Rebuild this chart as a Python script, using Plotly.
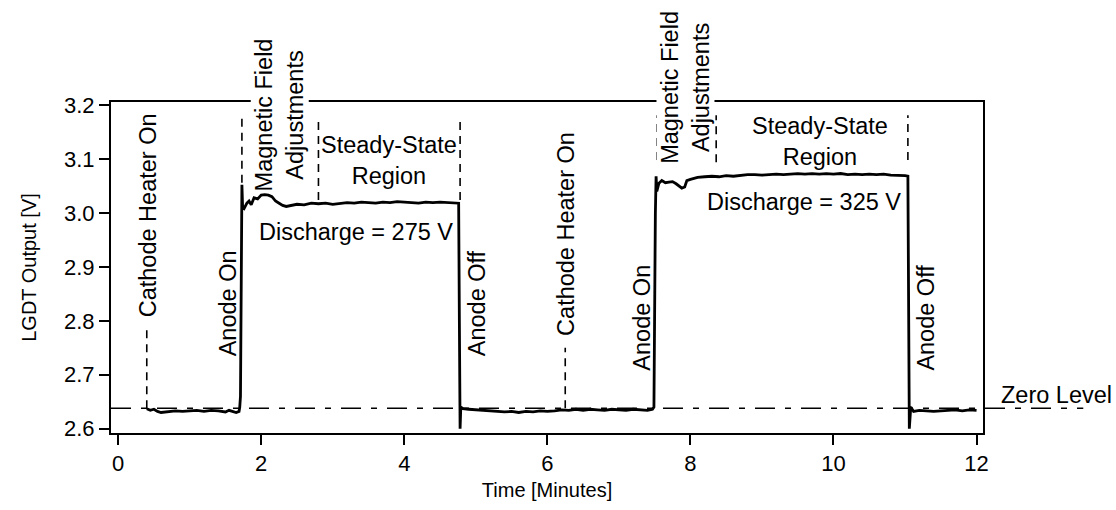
import plotly.graph_objects as go

# ---------------- data ----------------
time_min = [
    0.40, 0.45, 0.50, 0.55, 0.60, 0.70, 0.80, 0.90, 1.00, 1.10, 1.20, 1.30, 1.40, 1.50, 1.55, 1.60, 1.65, 1.69,
    1.70, 1.71, 1.72, 1.73, 1.74, 1.76, 1.80, 1.83, 1.86, 1.90, 1.95, 2.00, 2.05, 2.10, 2.15, 2.20, 2.25, 2.30,
    2.35, 2.40, 2.50, 2.60, 2.70, 2.80, 2.90, 3.00, 3.10, 3.20, 3.30, 3.40, 3.50, 3.60, 3.70, 3.80, 3.90, 4.00,
    4.10, 4.20, 4.30, 4.40, 4.50, 4.60, 4.70, 4.76, 4.77, 4.78, 4.79, 4.82, 4.90, 5.00, 5.10, 5.20, 5.30, 5.40,
    5.50, 5.60, 5.70, 5.80, 5.90, 6.00, 6.10, 6.20, 6.30, 6.40, 6.50, 6.60, 6.70, 6.80, 6.90, 7.00, 7.10, 7.20,
    7.30, 7.40, 7.47, 7.49, 7.51, 7.52, 7.53, 7.56, 7.60, 7.65, 7.70, 7.75, 7.80, 7.85, 7.88, 7.92, 7.95, 8.00,
    8.10, 8.20, 8.30, 8.40, 8.50, 8.60, 8.70, 8.80, 8.90, 9.00, 9.10, 9.20, 9.30, 9.40, 9.50, 9.60, 9.70, 9.80,
    9.90, 10.00, 10.10, 10.20, 10.30, 10.40, 10.50, 10.60, 10.70, 10.80, 10.90, 11.00, 11.04, 11.05, 11.06, 11.08,
    11.12, 11.20, 11.30, 11.40, 11.50, 11.60, 11.70, 11.80, 11.90, 12.00,
]
lgdt_v = [
    2.637, 2.634, 2.636, 2.632, 2.630, 2.632, 2.633, 2.632, 2.633, 2.634, 2.632, 2.634, 2.633, 2.631, 2.634, 2.632, 2.630, 2.632,
    2.640, 2.660, 3.000, 3.052, 3.010, 3.008, 3.018, 3.022, 3.015, 3.028, 3.026, 3.033, 3.034, 3.033, 3.030, 3.022, 3.018, 3.014,
    3.012, 3.013, 3.016, 3.015, 3.018, 3.017, 3.018, 3.016, 3.017, 3.019, 3.018, 3.020, 3.019, 3.018, 3.020, 3.019, 3.021, 3.020,
    3.019, 3.018, 3.020, 3.019, 3.020, 3.019, 3.018, 3.018, 2.800, 2.600, 2.640, 2.637, 2.636, 2.635, 2.634, 2.633, 2.632, 2.631,
    2.632, 2.630, 2.632, 2.631, 2.633, 2.632, 2.633, 2.635, 2.634, 2.636, 2.634, 2.636, 2.635, 2.634, 2.636, 2.635, 2.634, 2.636,
    2.635, 2.634, 2.636, 2.640, 3.000, 3.068, 3.040, 3.055, 3.060, 3.056, 3.057, 3.058, 3.054, 3.050, 3.046, 3.048, 3.060, 3.062,
    3.066, 3.067, 3.068, 3.067, 3.069, 3.068, 3.070, 3.071, 3.071, 3.070, 3.071, 3.072, 3.071, 3.072, 3.073, 3.072, 3.073, 3.072,
    3.073, 3.072, 3.073, 3.071, 3.072, 3.071, 3.072, 3.071, 3.072, 3.070, 3.070, 3.069, 3.068, 2.800, 2.600, 2.640,
    2.632, 2.634, 2.633, 2.632, 2.633, 2.634, 2.635, 2.633, 2.635, 2.634,
]

zero_level = 2.638

x_ticks = [0, 2, 4, 6, 8, 10, 12]
y_ticks = [2.6, 2.7, 2.8, 2.9, 3.0, 3.1, 3.2]

# event markers (time, from-value, to-value)
event_t = [0.40, 1.73, 2.80, 4.78, 6.25, 7.53, 8.36, 11.04]
event_v_low = [2.638, 3.056, 3.024, 3.024, 2.638, 3.098, 3.094, 3.098]
event_v_high = [2.793, 3.178, 3.178, 3.178, 2.750, 3.181, 3.181, 3.181]

# ---------------- figure ----------------
FONT = "Liberation Sans, Arial, Helvetica, sans-serif"
fig = go.Figure()
fig.add_trace(go.Scatter(
    x=time_min, y=lgdt_v, mode="lines",
    line=dict(color="black", width=2.8),
    showlegend=False, hoverinfo="skip",
))

shapes = []
for t, v0, v1 in zip(event_t, event_v_low, event_v_high):
    shapes.append(dict(type="line", xref="x", yref="y", x0=t, x1=t, y0=v0, y1=v1,
                       line=dict(color="black", width=1.6, dash="8px,6px")))
shapes.append(dict(type="line", xref="paper", yref="y", x0=0, x1=1.115, y0=zero_level, y1=zero_level,
                   line=dict(color="black", width=1.6, dash="20px,10px,6px,10px")))

AF = dict(family=FONT, size=23.5, color="black")
annotations = [
    dict(x=0.42, y=2.996, text="Cathode Heater On", textangle=-90),
    dict(x=1.54, y=2.833, text="Anode On", textangle=-90),
    dict(x=2.26, y=0.962, yref="paper", text="Magnetic Field<br>Adjustments", textangle=-90, bgcolor="white"),
    dict(x=3.79, y=3.098, text="Steady-State<br>Region"),
    dict(x=3.33, y=2.965, text="Discharge = 275 V"),
    dict(x=5.02, y=2.833, text="Anode Off", textangle=-90),
    dict(x=6.26, y=2.961, text="Cathode Heater On", textangle=-90),
    dict(x=7.31, y=2.806, text="Anode On", textangle=-90),
    dict(x=7.93, y=1.044, yref="paper", text="Magnetic Field<br>Adjustments", textangle=-90, bgcolor="white"),
    dict(x=9.81, y=3.133, text="Steady-State<br>Region"),
    dict(x=9.59, y=3.020, text="Discharge = 325 V"),
    dict(x=11.28, y=2.806, text="Anode Off", textangle=-90),
    dict(x=1.0195, xref="paper", y=2.662, text="Zero Level", xanchor="left"),
]
for a in annotations:
    a.setdefault("xref", "x")
    a.setdefault("yref", "y")
    a.setdefault("xanchor", "center")
    a.update(showarrow=False, font=AF, yanchor="middle", borderpad=0)

fig.update_layout(
    width=1116, height=510,
    margin=dict(l=111, r=133, t=102, b=77),
    paper_bgcolor="white", plot_bgcolor="white",
    font=dict(family=FONT, color="black"),
    shapes=shapes, annotations=annotations,
    showlegend=False,
)
fig.update_xaxes(
    range=[-0.1, 12.09], tickvals=x_ticks, ticktext=[str(v) for v in x_ticks],
    showline=True, linecolor="black", linewidth=2, mirror=True,
    ticks="outside", ticklen=10, tickwidth=2, tickcolor="black",
    showgrid=False, zeroline=False,
    tickfont=dict(family=FONT, size=22),
    title=dict(text="Time [Minutes]", font=dict(family=FONT, size=20), standoff=8),
)
fig.update_yaxes(
    range=[2.592, 3.2056], tickvals=y_ticks, ticktext=[f"{v:.1f}" for v in y_ticks],
    showline=True, linecolor="black", linewidth=2, mirror=True,
    ticks="outside", ticklen=10, tickwidth=2, tickcolor="black",
    showgrid=False, zeroline=False,
    tickfont=dict(family=FONT, size=22),
    title=dict(text="LGDT Output [V]", font=dict(family=FONT, size=20), standoff=22),
)

fig.write_html("out.html")
